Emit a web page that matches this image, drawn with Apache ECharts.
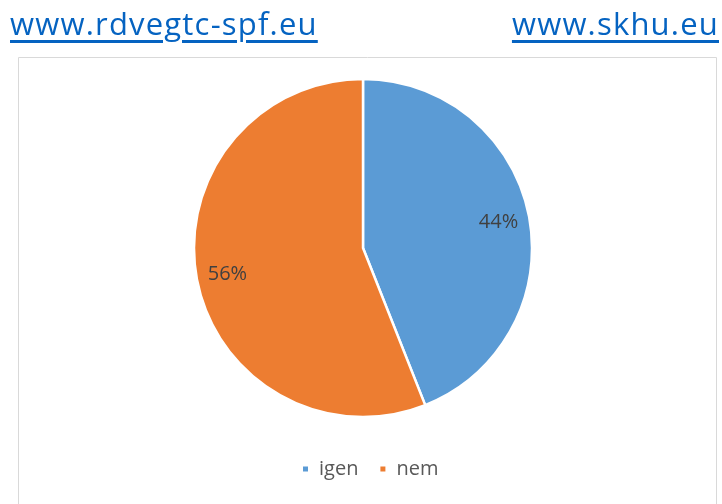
<!DOCTYPE html>
<html>
<head>
<meta charset="utf-8">
<script src="https://cdn.jsdelivr.net/npm/echarts@6/dist/echarts.min.js"></script>
<style>
  body { margin: 0; background: #fff; }
  #wrap { position: relative; width: 722px; height: 504px; overflow: hidden; }
  #main { position: absolute; left: 0; top: 0; width: 722px; height: 504px; }
  .site { position: absolute; top: 3px; font-family: "Open Sans", sans-serif; font-size: 31px; color: #0563C1;
          letter-spacing: 1.2px; text-decoration: underline; text-decoration-thickness: 3px;
          text-underline-offset: 5px; line-height: 40px; }
</style>
</head>
<body>
<div id="wrap">
  <div id="main"></div>
  <a class="site" style="left:10px">www.rdvegtc-spf.eu</a>
  <a class="site" style="right:3px">www.skhu.eu</a>
</div>
<script>
// igen / nem shares
const categories = ['igen', 'nem'];
const shares = [44, 56];
const colors = ['#5B9BD5', '#ED7D31'];

window.onload = function(){
    setPie();
}

function setPie(){
    let dom = document.getElementById('main');
    var myChart = echarts.init(dom);
    let pieData = categories.map(function(c, i){
        return { name: c, value: shares[i], itemStyle: { color: colors[i] } };
    });
    var option = {
        animation: false,
        graphic: [{
            type: 'rect',
            shape: { x: 18.5, y: 57.5, width: 698, height: 470 },
            style: { fill: 'none', stroke: '#D9D9D9', lineWidth: 1 }
        }],
        legend: {
            data: categories,
            top: 454,
            left: 296,
            icon: 'rect',
            itemWidth: 7,
            itemHeight: 7,
            itemGap: 20,
            textStyle: { fontSize: 20, color: '#595959', fontFamily: 'Open Sans', padding: [0, 0, 0, 5] }
        },
        series: [{
            type: 'pie',
            center: [363, 248],
            radius: 169,
            startAngle: 90,
            clockwise: true,
            itemStyle: { borderColor: '#fff', borderWidth: 2.5 },
            label: { show: false },
            labelLine: { show: false },
            emphasis: { disabled: true },
            data: pieData
        }, {
            // invisible ring only used to put the percent labels at 80% of the radius
            type: 'pie',
            center: [363, 248],
            radius: [101, 169],
            startAngle: 90,
            clockwise: true,
            silent: true,
            itemStyle: { color: 'rgba(0,0,0,0)' },
            label: {
                show: true,
                position: 'inside',
                formatter: '{d}%',
                fontSize: 20,
                color: '#404040',
                fontFamily: 'Open Sans'
            },
            labelLine: { show: false },
            emphasis: { disabled: true },
            data: categories.map(function(c, i){ return { name: c, value: shares[i] }; })
        }]
    };
    myChart.setOption(option);
}
</script>
</body>
</html>
